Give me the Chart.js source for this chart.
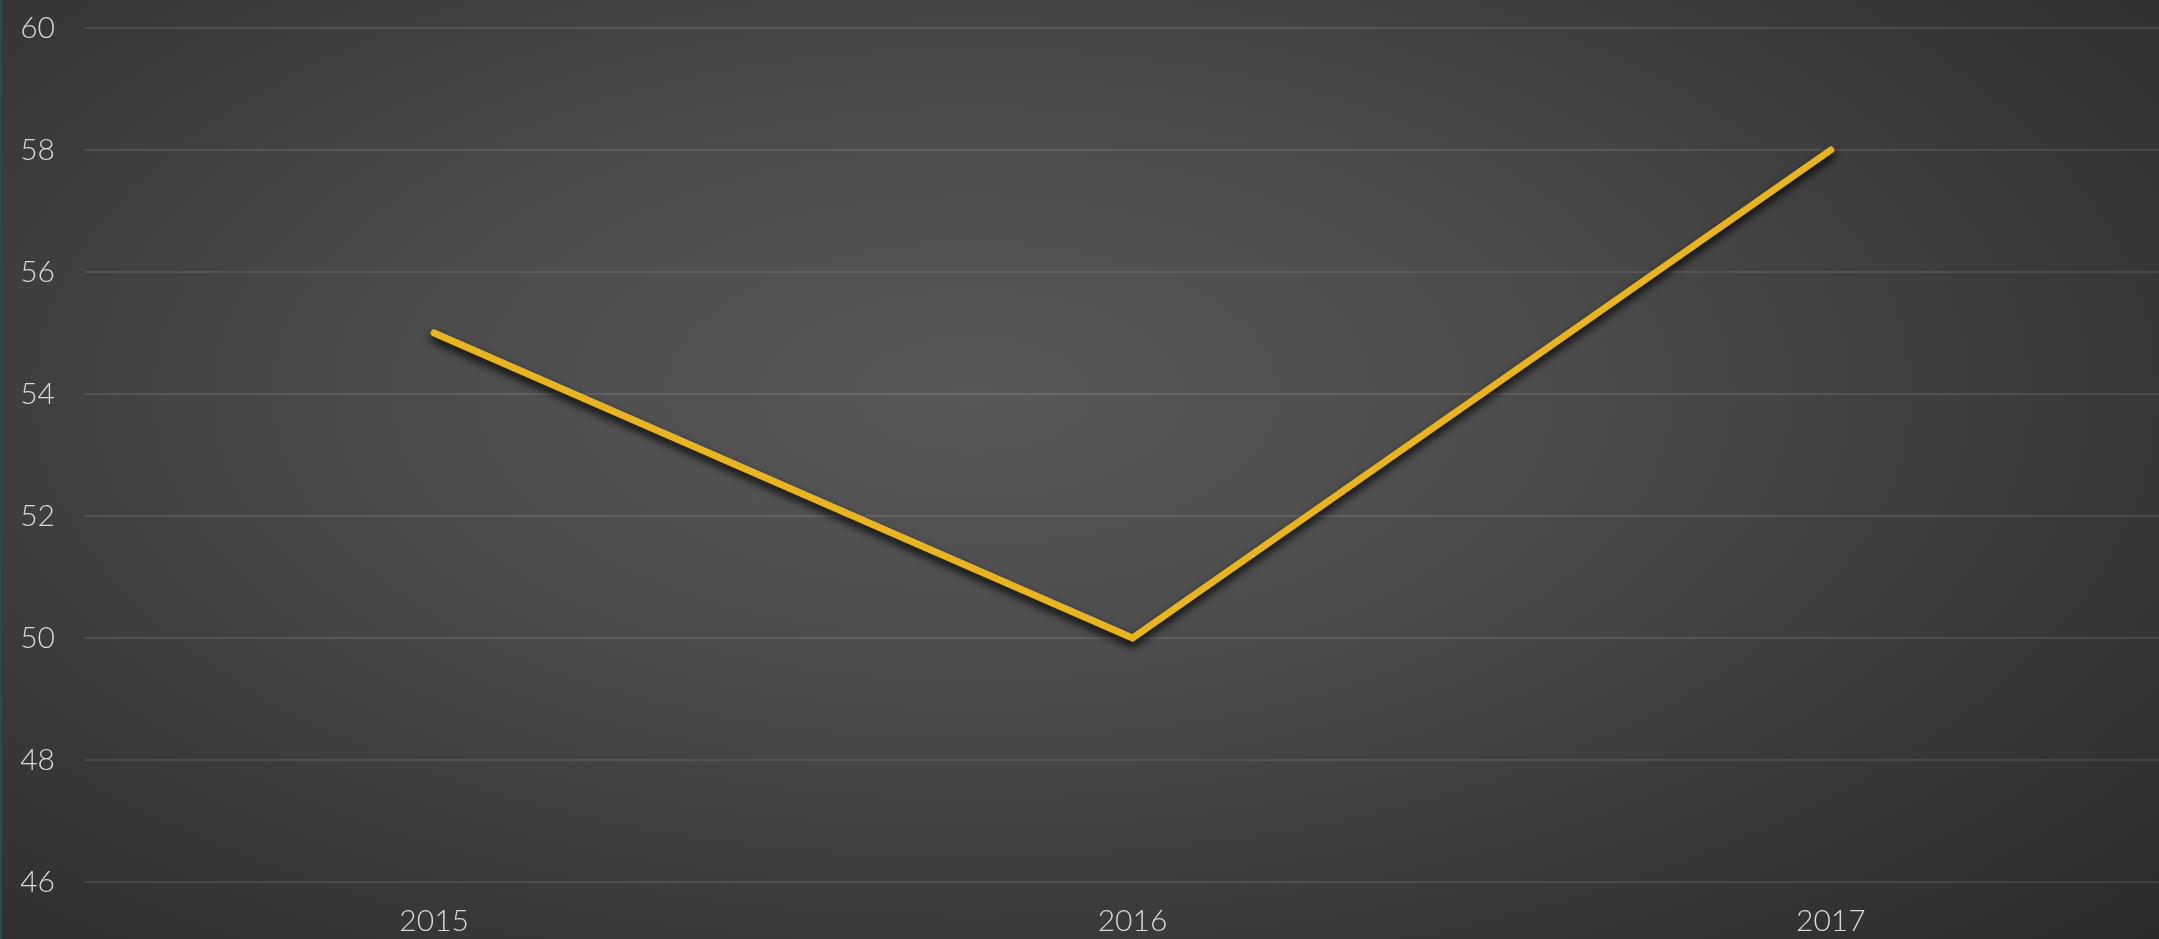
<!DOCTYPE html>
<html>
<head>
<meta charset="utf-8">
<script src="https://cdn.jsdelivr.net/npm/chart.js@4.4.1/dist/chart.umd.min.js"></script>
<style>
    html, body { margin: 0; padding: 0; width: 2159px; height: 939px; overflow: hidden; }
    #wrap {
        position: relative; width: 2159px; height: 939px; overflow: hidden;
        background: radial-gradient(ellipse 75% 85% at 45% 42%, #585858 0%, #4c4c4c 35%, #393939 70%, #2b2b2b 100%);
        border-left: 2px solid #1d4f55; box-sizing: border-box;
    }
    #box { position: absolute; left: 0; top: 0; width: 2178px; height: 939px; }
</style>
</head>
<body>
<div id="wrap"><div id="box"><canvas id="chart"></canvas></div></div>
<script>
// data
const YEARS = ['2015', '2016', '2017'];
const VALUES = [55, 50, 58];
const Y_MIN = 46, Y_MAX = 60, Y_STEP = 2;

const LINE_COLOR = '#e8b422';
const TICK_COLOR = '#d9d9d9';
const FONT = "Lato, 'Open Sans', sans-serif";

// soft drop shadow under the line
const lineShadow = {
    id: 'lineShadow',
    beforeDatasetsDraw(chart) {
        const c = chart.ctx;
        c.save();
        c.shadowColor = 'rgba(0,0,0,0.95)';
        c.shadowBlur = 8;
        c.shadowOffsetX = 0;
        c.shadowOffsetY = 5;
    },
    afterDatasetsDraw(chart) { chart.ctx.restore(); },
};

new Chart(document.getElementById('chart'), {
    type: 'line',
    data: {
        labels: YEARS,
        datasets: [{
            data: VALUES,
            borderColor: LINE_COLOR,
            borderWidth: 7,
            borderCapStyle: 'round',
            borderJoinStyle: 'miter',
            pointRadius: 0,
            tension: 0,
            fill: false,
        }],
    },
    options: {
        responsive: true,
        maintainAspectRatio: false,
        animation: false,
        layout: { autoPadding: false, padding: { top: 28, left: 0, right: 0, bottom: 0 } },
        plugins: { legend: { display: false }, tooltip: { enabled: false } },
        scales: {
            x: {
                offset: true,
                grid: { display: false, drawTicks: false },
                border: { display: false },
                ticks: { color: TICK_COLOR, padding: 21, font: { family: FONT, size: 30, weight: 300 } },
                afterFit: (s) => { s.height = 57; s.paddingLeft = 0; s.paddingRight = 0; },
            },
            y: {
                min: Y_MIN, max: Y_MAX,
                grid: { color: 'rgba(255,255,255,0.1)', lineWidth: 2, drawTicks: false },
                border: { display: false },
                ticks: { stepSize: Y_STEP, color: TICK_COLOR, padding: 30, font: { family: FONT, size: 30, weight: 300 } },
                afterFit: (s) => { s.width = 83; s.paddingTop = 0; s.paddingBottom = 0; },
            },
        },
    },
    plugins: [lineShadow],
});
</script>
</body>
</html>
